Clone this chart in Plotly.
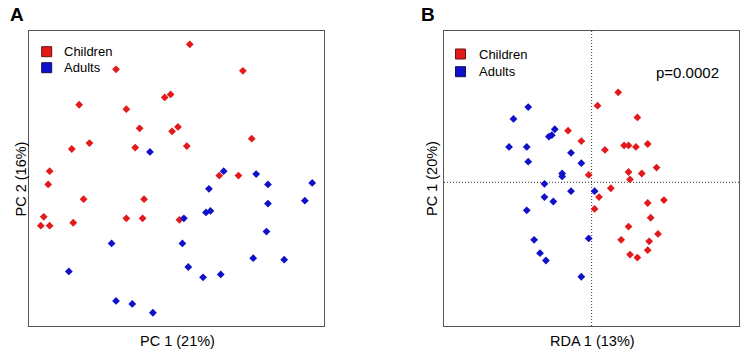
import plotly.graph_objects as go

W, H = 744, 353

# ---------------- Panel A: PCA scores ----------------
a_children_pc1 = [0.09, -0.41, 0.45, -0.66, -0.08, -0.04, -0.34, -0.25, 0.01, -0.03,
                  0.51, -0.59, -0.71, -0.28, 0.07, -0.86, -0.87, 0.29, 0.42, -0.63,
                  -0.22, -0.90, -0.92, -0.86, -0.70, -0.34, -0.23, 0.02]
a_children_pc2 = [0.91, 0.74, 0.73, 0.50, 0.55, 0.57, 0.47, 0.34, 0.35, 0.32,
                  0.27, 0.24, 0.20, 0.21, 0.22, 0.05, -0.04, 0.02, 0.02, -0.14,
                  -0.14, -0.26, -0.32, -0.32, -0.30, -0.27, -0.27, -0.28]
a_adults_pc1 = [-0.18, 0.32, 0.54, 0.62, 0.92, 0.22, 0.87, 0.62, 0.20, 0.23,
                0.05, 0.61, -0.44, 0.04, 0.52, 0.73, 0.08, -0.73, 0.18, 0.30,
                -0.41, -0.30, -0.16]
a_adults_pc2 = [0.18, 0.05, 0.03, -0.04, -0.03, -0.07, -0.15, -0.17, -0.23, -0.22,
                -0.27, -0.36, -0.44, -0.44, -0.54, -0.55, -0.60, -0.63, -0.67, -0.65,
                -0.83, -0.85, -0.91]

# ---------------- Panel B: RDA scores ----------------
b_children_rda1 = [0.18, 0.04, 0.31, -0.16, -0.07, 0.22, 0.25, 0.30, 0.38, 0.09,
                   0.44, 0.25, 0.34, 0.26, -0.02, 0.13, 0.05, 0.49, 0.02, 0.38,
                   0.40, 0.25, 0.45, 0.20, 0.39, 0.38, 0.26, 0.31]
b_children_pc1 = [0.61, 0.52, 0.44, 0.35, 0.28, 0.25, 0.25, 0.24, 0.26, 0.22,
                  0.10, 0.07, 0.06, 0.02, 0.05, -0.04, -0.10, -0.12, -0.18, -0.14,
                  -0.24, -0.30, -0.35, -0.39, -0.40, -0.46, -0.49, -0.51]
b_adults_rda1 = [-0.43, -0.53, -0.25, -0.27, -0.29, -0.56, -0.44, -0.14, -0.43, -0.07,
                 -0.20, -0.20, -0.32, -0.14, 0.02, -0.32, -0.26, -0.44, -0.39, -0.02,
                 -0.35, -0.31, -0.07]
b_adults_pc1 = [0.51, 0.43, 0.36, 0.32, 0.31, 0.24, 0.24, 0.20, 0.14, 0.13,
                0.06, 0.04, -0.01, -0.06, -0.06, -0.10, -0.13, -0.19, -0.39, -0.38,
                -0.48, -0.53, -0.64]

groups = ["Children", "Adults"]
group_colors = ["#E31A1C", "#1010CC"]
group_borders = ["#6B1010", "#10105A"]
panel_letters = ["A", "B"]
x_titles = ["PC 1 (21%)", "RDA 1 (13%)"]
y_titles = ["PC 2 (16%)", "PC 1 (20%)"]
p_value_text = "p=0.0002"

FONT = "Liberation Sans, Arial, Helvetica, sans-serif"


def px_x(p):
    return p / W


def px_y(p):
    return 1 - p / H


fig = go.Figure()

marker_common = dict(symbol="diamond", size=6, line=dict(width=0))

fig.add_trace(go.Scatter(x=a_children_pc1, y=a_children_pc2, mode="markers", name=groups[0],
                         marker=dict(color=group_colors[0], **marker_common),
                         xaxis="x", yaxis="y", showlegend=False))
fig.add_trace(go.Scatter(x=a_adults_pc1, y=a_adults_pc2, mode="markers", name=groups[1],
                         marker=dict(color=group_colors[1], **marker_common),
                         xaxis="x", yaxis="y", showlegend=False))
fig.add_trace(go.Scatter(x=b_children_rda1, y=b_children_pc1, mode="markers", name=groups[0],
                         marker=dict(color=group_colors[0], **marker_common),
                         xaxis="x2", yaxis="y2", showlegend=False))
fig.add_trace(go.Scatter(x=b_adults_rda1, y=b_adults_pc1, mode="markers", name=groups[1],
                         marker=dict(color=group_colors[1], **marker_common),
                         xaxis="x2", yaxis="y2", showlegend=False))

ax_common = dict(showgrid=False, zeroline=False, showticklabels=False, ticks="",
                 showline=True, mirror=True, linecolor="#555555", linewidth=1)

ydom = [px_y(326), px_y(31)]
fig.update_layout(
    width=W, height=H,
    margin=dict(l=0, r=0, t=0, b=0),
    paper_bgcolor="white", plot_bgcolor="white",
    font=dict(family=FONT, color="black"),
    xaxis=dict(domain=[px_x(29), px_x(324)], range=[-1.0, 1.0], anchor="y", **ax_common),
    yaxis=dict(domain=ydom, range=[-1.0, 1.0], anchor="x", **ax_common),
    xaxis2=dict(domain=[px_x(444), px_x(739)], range=[-1.001, 0.999], anchor="y2", **ax_common),
    yaxis2=dict(domain=ydom, range=[-0.974, 1.026], anchor="x2", **ax_common),
)

# crosshair at origin of panel B
fig.add_shape(type="line", xref="x2", yref="y2 domain", x0=0, x1=0, y0=0, y1=1,
              line=dict(color="#333333", width=1, dash="1px,2px"), layer="below")
fig.add_shape(type="line", xref="x2 domain", yref="y2", x0=0, x1=1, y0=0, y1=0,
              line=dict(color="#333333", width=1, dash="1px,2px"), layer="below")

annotations = []
# panel letters
for letter, lx in zip(panel_letters, [16.5, 428]):
    annotations.append(dict(text=f"<b>{letter}</b>", x=px_x(lx), y=px_y(15), xref="paper", yref="paper",
                            showarrow=False, xanchor="center", yanchor="middle",
                            font=dict(size=19, family=FONT, color="black")))
# axis titles
for t, cx in zip(x_titles, [177, 592]):
    annotations.append(dict(text=t, x=px_x(cx), y=px_y(341), xref="paper", yref="paper",
                            showarrow=False, xanchor="center", yanchor="middle",
                            font=dict(size=14.5, family=FONT, color="black")))
for t, cx in zip(y_titles, [20.5, 432]):
    annotations.append(dict(text=t, x=px_x(cx), y=px_y(179), xref="paper", yref="paper",
                            showarrow=False, xanchor="center", yanchor="middle", textangle=-90,
                            font=dict(size=14.5, family=FONT, color="black")))
# p-value
annotations.append(dict(text=p_value_text, x=px_x(721), y=px_y(72.5), xref="paper", yref="paper",
                        showarrow=False, xanchor="right", yanchor="middle",
                        font=dict(size=15, family=FONT, color="black")))

# legends (square keys + labels), one per panel
legend_specs = [
    dict(sq_x=41.7, txt_x=62, rows=[51.7, 67.7]),
    dict(sq_x=455.5, txt_x=477, rows=[54, 71.7]),
]
shapes = []
for spec in legend_specs:
    for g, col, bcol, ry in zip(groups, group_colors, group_borders, spec["rows"]):
        shapes.append(dict(type="rect", xref="paper", yref="paper",
                           x0=px_x(spec["sq_x"]), x1=px_x(spec["sq_x"] + 10),
                           y0=px_y(ry + 5), y1=px_y(ry - 5),
                           fillcolor=col, line=dict(color=bcol, width=1)))
        annotations.append(dict(text=g, x=px_x(spec["txt_x"]), y=px_y(ry), xref="paper", yref="paper",
                                showarrow=False, xanchor="left", yanchor="middle",
                                font=dict(size=13, family=FONT, color="black")))

for s in shapes:
    fig.add_shape(**s)
fig.update_layout(annotations=annotations)

fig.write_html("out.html", config={"displayModeBar": False},
               post_script="document.body.style.margin='0';document.body.style.overflow='hidden';")
